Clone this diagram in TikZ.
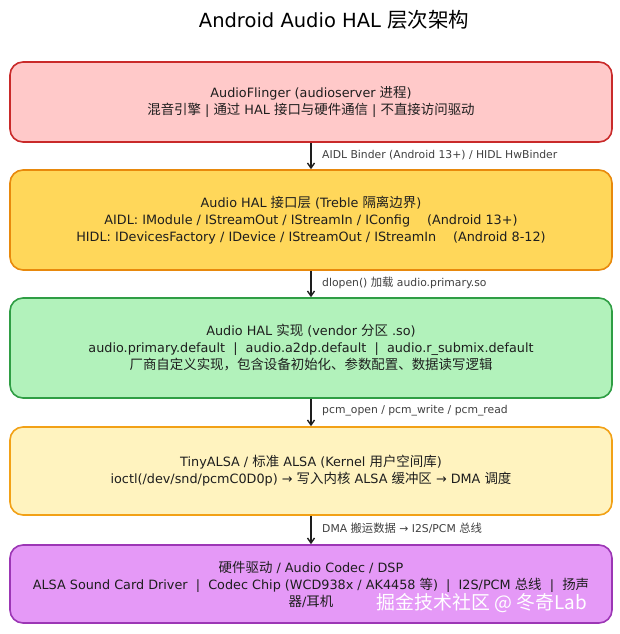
\documentclass[tikz,border=0pt]{standalone}
\usepackage{fontspec}
\setmainfont{DejaVu Sans}
\newfontfamily\cjk[Scale=1.05]{Noto Sans CJK SC}
\usepackage{tikz}
\usetikzlibrary{arrows.meta,positioning,calc}

\definecolor{flingerfill}{HTML}{FFC9C9}
\definecolor{flingerline}{HTML}{C92A2A}
\definecolor{halitffill}{HTML}{FFD75A}
\definecolor{halitfline}{HTML}{E8890C}
\definecolor{halimplfill}{HTML}{B2F2BB}
\definecolor{halimplline}{HTML}{2F9E44}
\definecolor{alsafill}{HTML}{FFF3BF}
\definecolor{alsaline}{HTML}{F2A116}
\definecolor{hwfill}{HTML}{E599F7}
\definecolor{hwline}{HTML}{9C36B5}
\definecolor{inktext}{HTML}{1E1E1E}

\tikzset{
	layerbox/.style={draw, rounded corners=13pt, line width=1.6pt, minimum width=602pt,
		align=center, text=inktext, font=\fontsize{12.8}{17}\selectfont},
	flow/.style={-{Straight Barb[length=5pt,width=7pt]}, line width=1.4pt, draw=inktext},
	flowlabel/.style={anchor=west, text=inktext!85, font=\fontsize{10.8}{12}\selectfont, inner sep=0pt}
}

\begin{document}
\begin{tikzpicture}[x=1pt, y=1pt]
	\useasboundingbox[fill=white] (0, 0) rectangle (620, -634);
	\node (title)		at	(334, -20)	{\fontsize{19.5}{22}\selectfont Android Audio HAL {\cjk 层次架构}};

	\node[layerbox, fill=flingerfill, draw=flingerline, minimum height=80pt] (layerflinger)	at	(311, -102)
		{AudioFlinger (audioserver {\cjk 进程})\\
		{\cjk 混音引擎} | {\cjk 通过} HAL {\cjk 接口与硬件通信} | {\cjk 不直接访问驱动}};
	\node[layerbox, fill=halitffill, draw=halitfline, minimum height=100pt] (layerhalitf)	at	(311, -220)
		{Audio HAL {\cjk 接口层} (Treble {\cjk 隔离边界})\\
		AIDL: IModule / IStreamOut / IStreamIn / IConfig \quad (Android 13+)\\
		HIDL: IDevicesFactory / IDevice / IStreamOut / IStreamIn \quad (Android 8-12)};
	\node[layerbox, fill=halimplfill, draw=halimplline, minimum height=100pt] (layerhalimpl)	at	(311, -348)
		{Audio HAL {\cjk 实现} (vendor {\cjk 分区} .so)\\
		audio.primary.default \ | \ audio.a2dp.default \ | \ audio.r\_submix.default\\
		{\cjk 厂商自定义实现，包含设备初始化、参数配置、数据读写逻辑}};
	\node[layerbox, fill=alsafill, draw=alsaline, minimum height=88pt] (layeralsa)	at	(311, -471)
		{TinyALSA / {\cjk 标准} ALSA (Kernel {\cjk 用户空间库})\\
		ioctl(/dev/snd/pcmC0D0p) → {\cjk 写入内核} ALSA {\cjk 缓冲区} → DMA {\cjk 调度}};
	\node[layerbox, fill=hwfill, draw=hwline, minimum height=78pt] (layerhw)	at	(311, -584)
		{{\cjk 硬件驱动} / Audio Codec / DSP\\
		ALSA Sound Card Driver \ | \ Codec Chip (WCD938x / AK4458 {\cjk 等}) \ | \ I2S/PCM {\cjk 总线} \ | \ {\cjk 扬声}\\
		{\cjk 器}/{\cjk 耳机}};

	% connectors between the layers
	\draw[flow] (layerflinger.south) -- (layerhalitf.north);
	\draw[flow] (layerhalitf.south) -- (layerhalimpl.north);
	\draw[flow] (layerhalimpl.south) -- (layeralsa.north);
	\draw[flow] (layeralsa.south) -- (layerhw.north);

	\node[flowlabel] (lblbinder)	at	(322, -155)	{AIDL Binder (Android 13+) / HIDL HwBinder};
	\node[flowlabel] (lbldlopen)	at	(322, -283)	{dlopen() {\cjk 加载} audio.primary.so};
	\node[flowlabel] (lblpcm)		at	(322, -411)	{pcm\_open / pcm\_write / pcm\_read};
	\node[flowlabel] (lbldma)		at	(322, -528)	{DMA {\cjk 搬运数据} → I2S/PCM {\cjk 总线}};

	\node[text=white, font=\cjk\fontsize{18}{22}\selectfont] (watermark)	at	(482, -603)	{掘金技术社区 @ 冬奇Lab};
\end{tikzpicture}
\end{document}
